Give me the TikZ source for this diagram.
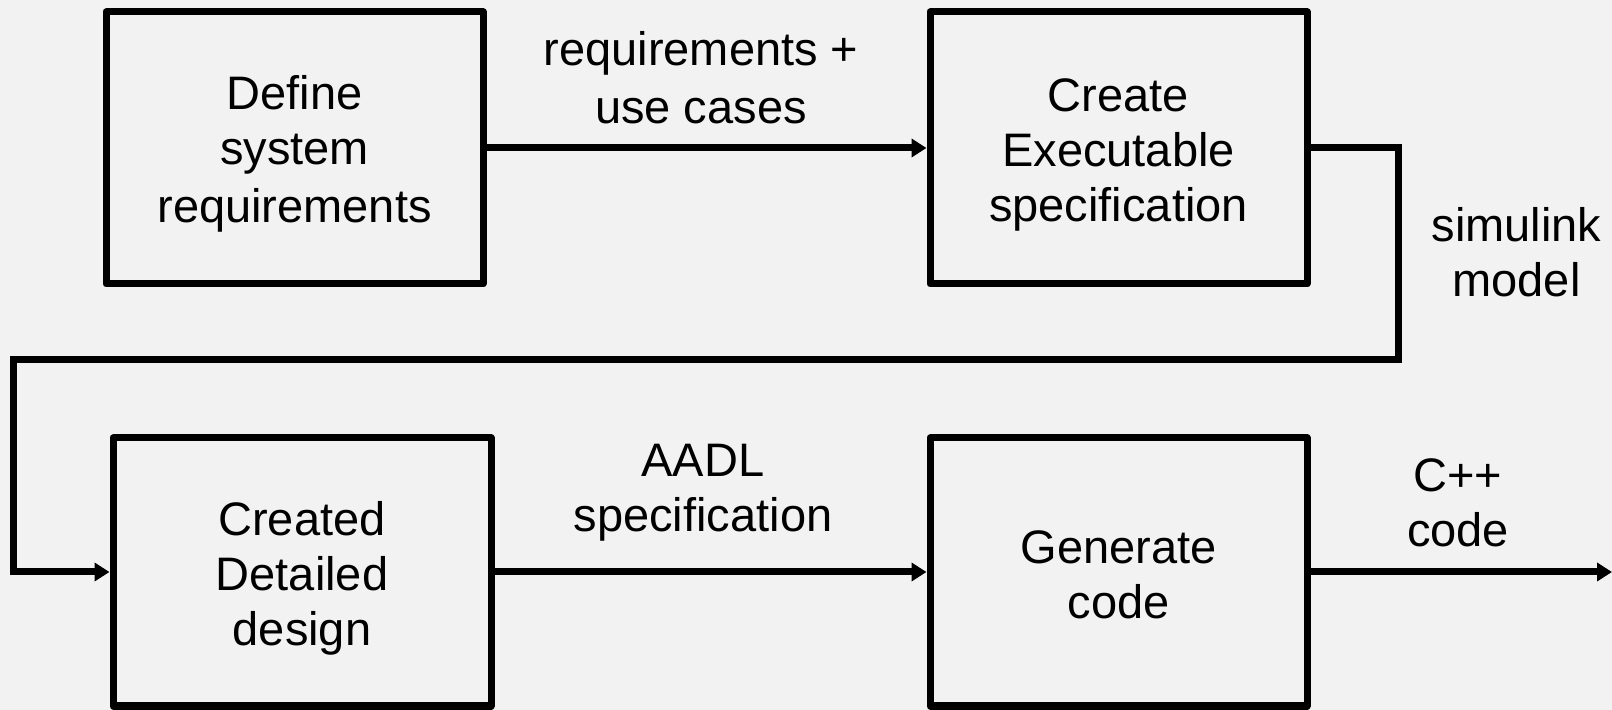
\documentclass[tikz,border=0pt]{standalone}
\usepackage{fontspec}
\setmainfont{Liberation Sans}
\usetikzlibrary{arrows.meta}
\definecolor{pagebg}{RGB}{242,242,242}
% each text line gets a strut that fills one baseline step
\newcommand{\lstr}{\rule[-4.4pt]{0pt}{27.5pt}}
\begin{document}
\begin{tikzpicture}[x=0.5pt,y=-0.5pt,
  txt/.style={font=\fontsize{23.5pt}{27.5pt}\selectfont, align=center, inner sep=0pt},
  stepbox/.style={txt, draw=black, line width=3.5pt, line join=round,
    minimum width=188.5pt, minimum height=136pt},
  lowbox/.style={stepbox, minimum height=134pt},
  flow/.style={draw=black, line width=3.5pt, -{Triangle[length=7.5pt,width=9pt]}}]

  \fill[pagebg] (0,0) rectangle (1612,710);
  \useasboundingbox (0,0) rectangle (1612,710);

  % process steps
  \node[stepbox] (define) at (294.5,148) {\lstr Define\\\lstr system\\\lstr requirements};
  \node[stepbox] (exec)   at (1118.5,148) {\lstr Create\\\lstr Executable\\\lstr specification};
  \node[lowbox, minimum width=189pt] (design) at (302,572) {\lstr Created\\\lstr Detailed\\\lstr design};
  \node[lowbox] (gen) at (1118.5,572) {\lstr Generate\\\lstr code};

  % bend points of the long connector and the open output end
  \coordinate (turnA) at (1398,360);
  \coordinate (turnB) at (13,360);
  \coordinate (out) at (1612,572);

  % connectors
  \draw[flow] (define) -- (exec);
  \draw[flow] (exec.east) -| (turnA) -- (turnB) |- (design.west);
  \draw[flow] (design) -- (gen);
  \draw[flow] (gen.east) -- (out);

  % connector labels
  \node[txt] (lreq) at (701,75.5) {\lstr requirements +\\\lstr use cases};
  \node[txt] (lsim) at (1516.5,250.5) {\lstr simulink\\\lstr model};
  \node[txt] (laadl) at (703,485.5) {\lstr AADL\\\lstr specification};
  \node[txt] (lcpp) at (1458,500.5) {\lstr C++\\\lstr code};
\end{tikzpicture}
\end{document}
